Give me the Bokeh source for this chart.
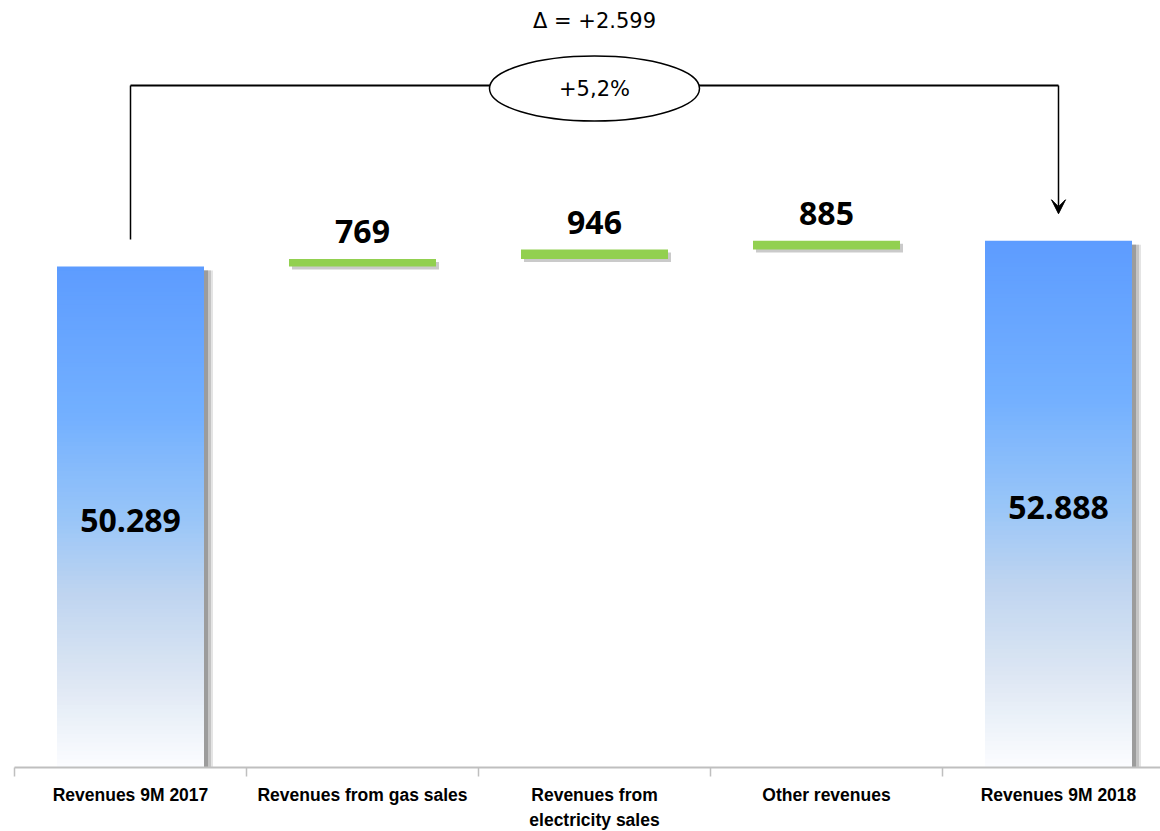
from bokeh.plotting import figure
from bokeh.models import Range1d, FixedTicker, Arrow, VeeHead
from bokeh.embed import file_html
from bokeh.resources import INLINE
from bokeh.core.properties import value
import numpy as np

# ---------------- data ----------------
categories = ["Revenues 9M 2017", "Revenues from gas sales",
              "Revenues from\nelectricity sales", "Other revenues", "Revenues 9M 2018"]
start_total = 50289
increments = [769, 946, 885]
end_total = 52888

# ---------------- derived ----------------
xs = list(range(len(categories)))
inc_x = xs[1:4]
inc_bottom = list(start_total + np.concatenate([[0], np.cumsum(increments)[:-1]]))
inc_top = list(np.array(inc_bottom) + np.array(increments))
tot_x = [xs[0], xs[-1]]
tot_v = [start_total, end_total]

def fmt(v):
    return f"{v:,}".replace(",", ".")

delta = end_total - start_total
pct = delta / start_total * 100
delta_txt = "\u0394 = +" + fmt(delta)
pct_txt = ("+%.1f%%" % pct).replace(".", ",")

# ---------------- layout constants ----------------
PX_X = 232.0           # pixels per category
UPP = 100.4            # data units per pixel (y)
FRAME_W, FRAME_H = 1146, 767
BW = 147 / PX_X        # bar width in data units

p = figure(frame_width=FRAME_W, frame_height=FRAME_H,
           x_range=Range1d(-0.5, -0.5 + FRAME_W / PX_X),
           y_range=Range1d(0, FRAME_H * UPP),
           output_backend="svg", toolbar_location=None,
           min_border_left=14, min_border_right=0, min_border_top=0,
           min_border_bottom=64, y_axis_location=None)
p.grid.visible = False
p.outline_line_color = None
p.background_fill_color = "white"
p.border_fill_color = "white"

ax = p.xaxis[0]
ax.ticker = FixedTicker(ticks=xs, minor_ticks=[i - 0.5 for i in range(len(xs) + 1)])
ax.major_label_overrides = {i: c for i, c in enumerate(categories)}
ax.major_tick_out = 0
ax.major_tick_in = 0
ax.minor_tick_out = 9
ax.minor_tick_in = 0
ax.minor_tick_line_color = "#bfbfbf"
ax.minor_tick_line_width = 1.5
ax.axis_line_color = "#bfbfbf"
ax.axis_line_width = 2
ax.major_label_text_font = "Liberation Sans"
ax.major_label_text_font_style = "bold"
ax.major_label_text_font_size = "17.5px"
ax.major_label_text_line_height = 1.25
ax.major_label_text_color = "black"
ax.major_label_standoff = 8

# ---------------- shadows for total bars ----------------
for dxp, col in [(9, "#e4e4e4"), (7, "#c4c4c4"), (4, "#9c9c9c")]:
    dx = dxp / PX_X
    p.quad(left=[x - BW / 2 + dx for x in tot_x], right=[x + BW / 2 + dx for x in tot_x],
           bottom=[0, 0], top=[v - 4 * UPP for v in tot_v],
           fill_color=col, line_color=None)

# ---------------- gradient total bars ----------------
stops_t = [0.0, 0.3, 0.5, 0.65, 0.82, 1.0]
stops_c = np.array([(93, 156, 255), (115, 176, 255), (152, 197, 248),
                    (190, 212, 240), (220, 230, 243), (252, 253, 255)], dtype=float)
N = 120
L, R, B, T, C = [], [], [], [], []
for x, v in zip(tot_x, tot_v):
    for k in range(N):
        b = v * k / N
        t = min(v, v * (k + 1) / N + 1.5 * UPP)
        tt = 1 - (k + 0.5) / N
        rgb = [np.interp(tt, stops_t, stops_c[:, j]) for j in range(3)]
        L.append(x - BW / 2); R.append(x + BW / 2); B.append(b); T.append(t)
        C.append("#%02x%02x%02x" % tuple(int(round(c)) for c in rgb))
p.quad(left=L, right=R, bottom=B, top=T, fill_color=C, line_color=None)

# ---------------- increment bars ----------------
sdx = 3 / PX_X
p.quad(left=[x - BW / 2 + sdx for x in inc_x], right=[x + BW / 2 + sdx for x in inc_x],
       bottom=[b - 3 * UPP for b in inc_bottom], top=[t - 3 * UPP for t in inc_top],
       fill_color="#bdbdbd", line_color=None, fill_alpha=0.8)
p.quad(left=[x - BW / 2 for x in inc_x], right=[x + BW / 2 for x in inc_x],
       bottom=inc_bottom, top=inc_top, fill_color="#92d050", line_color=None)

# ---------------- labels ----------------
p.text(x=inc_x, y=inc_top, text=[fmt(v) for v in increments], y_offset=-27,
       text_align="center", text_baseline="middle",
       text_font=value("Open Sans"), text_font_style="bold",
       text_font_size="32px", text_color="black")
p.text(x=tot_x, y=[v / 2 for v in tot_v], text=[fmt(v) for v in tot_v], y_offset=3,
       text_align="center", text_baseline="middle",
       text_font=value("Open Sans"), text_font_style="bold",
       text_font_size="32px", text_color="black")

# ---------------- bracket annotation ----------------
gap = 27 * UPP
bracket_y = 682 * UPP
p.line(x=[tot_x[0], tot_x[0]], y=[start_total + gap, bracket_y], line_color="black", line_width=1.5)
p.line(x=[tot_x[0], tot_x[1]], y=[bracket_y, bracket_y], line_color="black", line_width=2)
p.add_layout(Arrow(end=VeeHead(size=14, fill_color="black", line_color="black"),
                   x_start=tot_x[1], y_start=bracket_y, x_end=tot_x[1], y_end=end_total + gap,
                   line_color="black", line_width=1.5))
mid_x = (tot_x[0] + tot_x[1]) / 2
ell_y = 679 * UPP
p.ellipse(x=[mid_x], y=[ell_y], width=[210 / PX_X], height=[65 * UPP],
          fill_color="white", line_color="black", line_width=1.5)
p.text(x=[mid_x], y=[ell_y], text=[pct_txt], text_align="center", text_baseline="middle",
       text_font=value("DejaVu Sans"), text_font_size="21px", text_color="black")
p.text(x=[mid_x], y=[747 * UPP], text=[delta_txt], text_align="center", text_baseline="middle",
       text_font=value("DejaVu Sans"), text_font_size="21px", text_color="black")

open("out.html", "w").write(file_html(p, INLINE))
